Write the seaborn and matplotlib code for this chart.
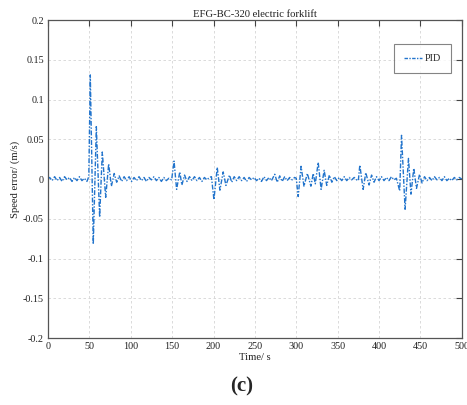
import pandas as pd
import seaborn as sns
import matplotlib.pyplot as plt

# speed error samples (time in s, error in m/s)
time_s = [0, 2, 5, 8, 11, 14, 17, 20, 23, 26, 29, 32, 35, 38, 41, 44, 47, 49.3,
          51.1, 54.7, 58.4, 62.4, 65.6, 69.7, 73.3, 76.6, 80, 83, 86, 89, 92, 95, 98,
          101, 104, 107, 110, 113, 116, 119, 122, 125, 128, 131, 134, 137, 140, 143,
          146, 149.4,
          152.3, 155.4, 159.2, 161.8, 165, 168, 171, 174, 177, 180, 183, 186, 189,
          192, 195, 197.5,
          200.5, 204.5, 207.7, 211.7, 215, 219.3, 222, 225, 228, 231, 234, 237, 240,
          243, 246, 249, 252, 255, 258, 261, 264, 267, 270, 274, 277, 280, 283, 286,
          289, 292, 295, 298, 300,
          302.3, 305.8, 309.3, 313.4, 317.7, 320.5, 323, 326.5, 330, 333.7, 336.8,
          340, 343, 346, 349, 352, 355, 358, 361, 364, 367, 370, 373, 375,
          376.8, 380.8, 384, 388, 391, 394, 397, 400, 403, 406, 409, 412, 415, 418,
          421, 425,
          427.2, 431.5, 435.6, 438.6, 442, 445.3, 449, 452, 455, 458, 461, 464, 467,
          470, 473, 476, 479, 482, 485, 488, 491, 494, 497, 500]
speed_error = [0, 0.002, -0.002, 0.003, -0.002, 0.002, -0.003, 0.003, -0.001, 0.002,
               -0.003, 0.002, -0.002, 0.003, -0.002, 0.001, -0.003, 0.003,
               0.131, -0.082, 0.066, -0.048, 0.034, -0.023, 0.019, -0.009, 0.007,
               -0.004, 0.004, -0.003, 0.003, -0.002, 0.003, -0.003, 0.002, -0.002,
               0.003, -0.002, 0.002, -0.003, 0.002, -0.001, 0.003, -0.002, 0.002,
               -0.003, 0.002, -0.002, 0.001, -0.001,
               0.0226, -0.013, 0.009, -0.0075, 0.005, -0.003, 0.003, -0.002, 0.003,
               -0.002, 0.002, -0.003, 0.002, -0.001, 0.002, 0.003,
               -0.026, 0.0147, -0.014, 0.009, -0.008, 0.005, -0.004, 0.003, -0.002,
               0.003, -0.002, 0.002, -0.003, 0.002, -0.001, 0.002, -0.002, 0.001,
               -0.003, 0.003, -0.002, 0.002, -0.002, 0.006, -0.004, 0.004, -0.003,
               0.003, -0.002, 0.002, -0.001, 0.002, 0.001,
               -0.022, 0.016, -0.009, 0.007, -0.009, 0.007, -0.006, 0.021, -0.013,
               0.011, -0.008, 0.005, -0.004, 0.003, -0.002, 0.002, -0.002, 0.003,
               -0.002, 0.002, -0.001, 0.002, -0.001, -0.002,
               0.0176, -0.013, 0.008, -0.0075, 0.005, -0.004, 0.003, -0.002, 0.003,
               -0.002, 0.002, -0.002, 0.003, -0.001, 0.001, -0.015,
               0.055, -0.038, 0.026, -0.019, 0.0135, -0.0117, 0.006, -0.005, 0.003,
               -0.002, 0.002, -0.002, 0.003, -0.001, 0.002, -0.002, 0.003, -0.002,
               0.001, -0.002, 0.002, -0.001, 0.002, 0]

x_ticks = [0, 50, 100, 150, 200, 250, 300, 350, 400, 450, 500]
y_ticks = [-0.2, -0.15, -0.1, -0.05, 0, 0.05, 0.1, 0.15, 0.2]
y_tick_labels = ["-0.2", "-0.15", "-0.1", "-0.05", "0", "0.05", "0.1", "0.15", "0.2"]

df = pd.DataFrame({"Time": time_s, "Error": speed_error, "ctrl": "PID"})

sns.set_style("white")
plt.rcParams["font.family"] = ["Liberation Serif", "DejaVu Serif"]

fig = plt.figure(figsize=(4.67, 4.05), dpi=100)
ax = fig.add_axes([0.1028, 0.1654, 0.886, 0.785])

sns.lineplot(data=df, x="Time", y="Error", hue="ctrl", palette=["#2274cc"],
             estimator=None, sort=False, linewidth=1.0, ax=ax)
ax.lines[0].set_dashes([3.5, 1.2, 1, 1.2])

ax.set_xlim(0, 500)
ax.set_ylim(-0.2, 0.2)
ax.set_xticks(x_ticks)
ax.set_xticklabels([str(t) for t in x_ticks])
ax.set_yticks(y_ticks)
ax.set_yticklabels(y_tick_labels)
ax.tick_params(direction="in", length=4, width=0.8, colors="#444444",
               labelsize=7.3, top=True, right=True, pad=3)
ax.tick_params(axis="both", labelcolor="#222222")
ax.grid(True, linestyle=(0, (3, 3)), color="#d4d4d4", linewidth=0.6)
for s in ax.spines.values():
    s.set_color("#555555")
    s.set_linewidth(0.9)

ax.set_title("EFG-BC-320 electric forklift", fontsize=7.7, pad=2, color="#222222")
ax.set_xlabel("Time/ s", fontsize=7.7, labelpad=1, color="#222222")
ax.set_ylabel("Speed error/ (m/s)", fontsize=7.7, labelpad=2, color="#222222")

leg = ax.legend(loc="upper right", bbox_to_anchor=(0.975, 0.925), fontsize=7.3,
                frameon=True, fancybox=False, edgecolor="#666666",
                handlelength=1.8, handletextpad=0.3, borderpad=1.0,
                borderaxespad=0)
leg.get_frame().set_linewidth(0.8)
leg.get_lines()[0].set_dashes([2.5, 1, 1, 1])

fig.text(0.518, 0.045, "(c)", ha="center", va="center", fontsize=15,
         fontweight="bold", family=["Liberation Serif", "DejaVu Serif"])

plt.savefig("out.png", dpi=100)
